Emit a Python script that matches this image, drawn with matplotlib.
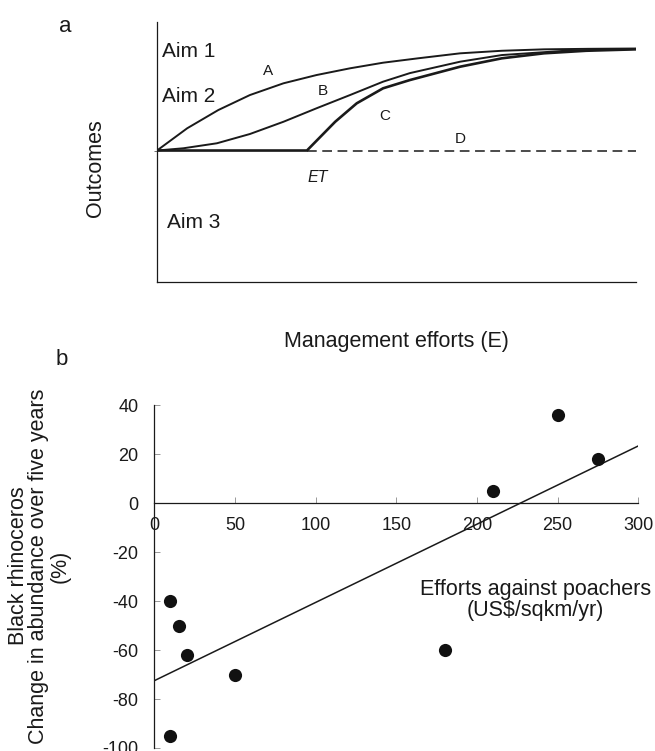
import matplotlib
matplotlib.use("Agg")
import matplotlib.pyplot as plt

plt.rcParams['font.family'] = ['Liberation Sans', 'DejaVu Sans']
plt.rcParams['axes.unicode_minus'] = False
plt.rcParams['lines.scale_dashes'] = False

# ---------------- Panel a: conceptual curves ----------------
curve_a_x = [0, 6.3, 12.8, 19.4, 26.4, 33.3, 40.3, 47.2, 54.5, 63.3, 72.0, 80.8, 90.0, 100]
curve_a_y = [0, 21.8, 39.7, 54.4, 65.9, 74.0, 80.6, 86.1, 90.4, 95.3, 97.8, 99.2, 99.7, 100]
curve_b_x = [0, 5.5, 12.5, 19.4, 26.4, 33.3, 40.3, 47.2, 52.8, 63.3, 72.0, 85.2, 100]
curve_b_y = [0, 2.2, 7.1, 16.2, 28.2, 41.4, 54.4, 67.5, 75.9, 87.1, 93.6, 97.8, 99.6]
curve_c_x = [0, 31.3, 37.2, 41.7, 47.2, 52.8, 63.3, 72.0, 80.8, 89.6, 100]
curve_c_y = [0, 0, 28.2, 46.3, 61.0, 69.1, 82.2, 90.4, 95.3, 97.8, 99.2]
curve_d_x = [31.3, 100]
curve_d_y = [0, 0]

# ---------------- Panel b: black rhinoceros data ----------------
effort_usd = [10, 15, 20, 50, 10, 180, 210, 250, 275]
change_pct = [-40, -50, -62, -70, -95, -60, 5, 36, 18]
trend_x = [0, 300]
trend_y = [-72.5, 23.4]
xticks_b = [0, 50, 100, 150, 200, 250, 300]
yticks_b = [40, 20, 0, -20, -40, -60, -80, -100]

W, H = 655, 751
fig = plt.figure(figsize=(W / 100, H / 100), dpi=100)


def fx(px):
    return px / W


def fy(py):
    return 1 - py / H


ink = '#1a1a1a'

# ---- panel a ----
axa = fig.add_axes([fx(157), fy(281.7), (636 - 157) / W, (281.7 - 22) / H])
axa.plot(curve_a_x, curve_a_y, color=ink, lw=1.4, solid_capstyle='butt')
axa.plot(curve_b_x, curve_b_y, color=ink, lw=1.4, solid_capstyle='butt')
axa.plot(curve_c_x, curve_c_y, color=ink, lw=1.9, solid_capstyle='butt')
axa.plot(curve_d_x, curve_d_y, color=ink, lw=1.1, dashes=(7, 4))
axa.set_xlim(0, 100)
axa.set_ylim(-128.6, 126)
for s in ['top', 'right']:
    axa.spines[s].set_visible(False)
for s in ['left', 'bottom']:
    axa.spines[s].set_linewidth(0.9)
    axa.spines[s].set_color(ink)
axa.set_xticks([])
axa.set_yticks([0])
axa.set_yticklabels([])
axa.tick_params(axis='y', length=2, width=0.6, color='#555555', direction='out')

fs_lab = 15.5
fig.text(fx(65), fy(31.7), 'a', fontsize=16, ha='center', va='baseline', color=ink)
fig.text(fx(162), fy(56.7), 'Aim 1', fontsize=15, ha='left', va='baseline', color=ink)
fig.text(fx(161.7), fy(101.7), 'Aim 2', fontsize=15, ha='left', va='baseline', color=ink)
fig.text(fx(166.5), fy(228.3), 'Aim 3', fontsize=15, ha='left', va='baseline', color=ink)
fig.text(fx(268), fy(75), 'A', fontsize=11, ha='center', va='baseline', color=ink)
fig.text(fx(323), fy(95), 'B', fontsize=11, ha='center', va='baseline', color=ink)
fig.text(fx(385), fy(120), 'C', fontsize=11, ha='center', va='baseline', color=ink)
fig.text(fx(460.7), fy(142.7), 'D', fontsize=11, ha='center', va='baseline', color=ink)
fig.text(fx(318), fy(181.7), 'ET', fontsize=11.5, style='italic', ha='center', va='baseline', color=ink)
fig.text(fx(96), fy(168), 'Outcomes', fontsize=fs_lab, rotation=90, ha='center', va='center', color=ink)
fig.text(fx(396.5), fy(347), 'Management efforts (E)', fontsize=fs_lab, ha='center', va='baseline', color=ink)

# ---- panel b ----
axb = fig.add_axes([fx(154.3), fy(748), (638.3 - 154.3) / W, (748 - 405.3) / H])
axb.plot(trend_x, trend_y, color=ink, lw=1.1)
axb.scatter(effort_usd, change_pct, s=90, color='#111111', zorder=3, linewidths=0)
axb.set_xlim(0, 300)
axb.set_ylim(-100, 40)
axb.spines['top'].set_visible(False)
axb.spines['right'].set_visible(False)
axb.spines['bottom'].set_position(('data', 0))
for s in ['left', 'bottom']:
    axb.spines[s].set_linewidth(0.9)
    axb.spines[s].set_color(ink)
axb.set_xticks(xticks_b)
axb.set_xticklabels([str(v) for v in xticks_b])
axb.set_yticks(yticks_b)
axb.set_yticklabels([str(v) for v in yticks_b])
axb.tick_params(axis='x', direction='in', length=4.3, width=0.6, color='#888888',
                pad=10, labelsize=13, labelcolor=ink)
axb.tick_params(axis='y', direction='in', length=4.3, width=0.6, color='#888888',
                pad=11.5, labelsize=13, labelcolor=ink)

fig.text(fx(62), fy(365), 'b', fontsize=16, ha='center', va='baseline', color=ink)
fig.text(fx(535.5), fy(595), 'Efforts against poachers', fontsize=fs_lab, ha='center', va='baseline', color=ink)
fig.text(fx(535.5), fy(616), '(US$/sqkm/yr)', fontsize=fs_lab, ha='center', va='baseline', color=ink)
fig.text(fx(19), fy(566), 'Black rhinoceros', fontsize=fs_lab, rotation=90, ha='center', va='center', color=ink)
fig.text(fx(39), fy(566), 'Change in abundance over five years', fontsize=fs_lab, rotation=90,
         ha='center', va='center', color=ink)
fig.text(fx(60), fy(566), '(%)', fontsize=fs_lab, rotation=90, ha='center', va='center', color=ink)

fig.savefig('out.png', dpi=100, facecolor='white')
